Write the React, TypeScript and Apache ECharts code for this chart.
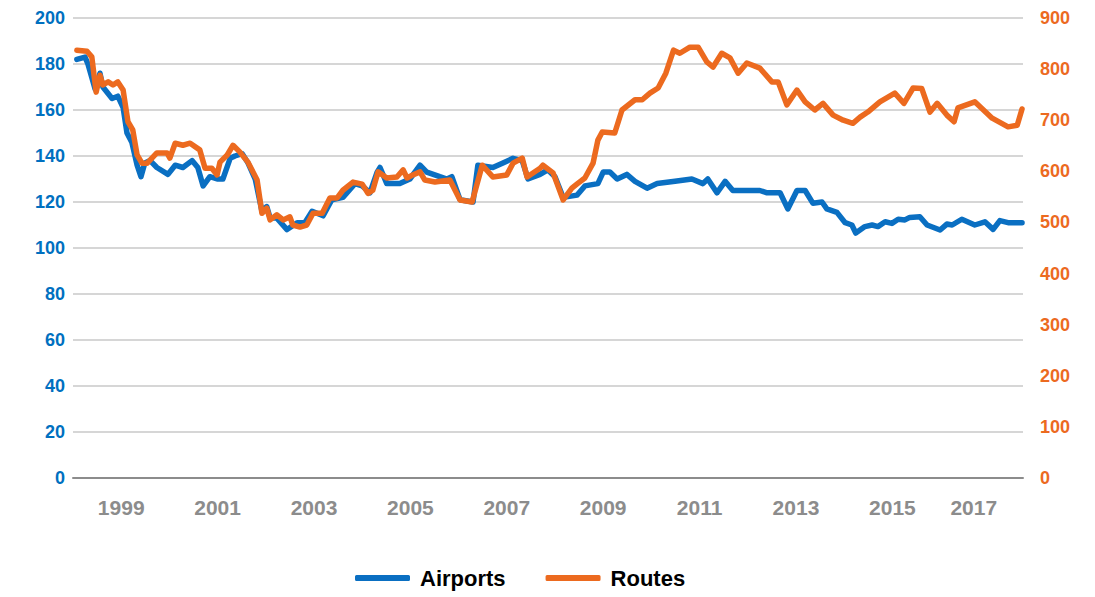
import React, { useEffect, useRef } from "react";
import * as echarts from "echarts";

// Decimal-year dates and values
const airportDates = [
  1998.08, 1998.25, 1998.31, 1998.46, 1998.56, 1998.62, 1998.81, 1998.93, 1999.04, 1999.12,
  1999.22, 1999.33, 1999.41, 1999.49, 1999.6, 1999.74, 1999.97, 2000.12, 2000.28, 2000.47,
  2000.59, 2000.7, 2000.84, 2000.99, 2001.11, 2001.26, 2001.36, 2001.51, 2001.63, 2001.78,
  2001.92, 2002.02, 2002.09, 2002.23, 2002.44, 2002.65, 2002.81, 2002.96, 2003.19, 2003.37,
  2003.6, 2003.85, 2004.0, 2004.16, 2004.31, 2004.37, 2004.51, 2004.78, 2004.99, 2005.2,
  2005.34, 2005.61, 2005.76, 2005.86, 2006.03, 2006.3, 2006.4, 2006.71, 2006.92, 2007.13,
  2007.32, 2007.44, 2007.69, 2007.85, 2008.0, 2008.17, 2008.46, 2008.62, 2008.89, 2009.0,
  2009.14, 2009.29, 2009.49, 2009.66, 2009.91, 2010.12, 2010.49, 2010.84, 2011.07, 2011.17,
  2011.36, 2011.53, 2011.69, 2012.25, 2012.4, 2012.67, 2012.83, 2013.02, 2013.19, 2013.35,
  2013.54, 2013.64, 2013.85, 2014.02, 2014.16, 2014.24, 2014.43, 2014.58, 2014.7, 2014.85,
  2014.99, 2015.12, 2015.26, 2015.36, 2015.57, 2015.72, 2015.99, 2016.13, 2016.24, 2016.44,
  2016.71, 2016.92, 2017.09, 2017.23, 2017.4, 2017.69,
];
const airportValues = [
  182, 183, 180, 169, 176, 170, 165, 166, 161, 150,
  146, 136, 131, 137, 138, 135, 132, 136, 135, 138,
  135, 127, 131, 130, 130, 139, 140, 141, 137, 130,
  116, 118, 113, 113, 108, 111, 111, 116, 114, 121,
  122, 128, 127, 124, 133, 135, 128, 128, 130, 136,
  133, 131, 130, 131, 121, 120, 136, 135, 137, 139,
  138, 130, 132, 134, 131, 122, 123, 127, 128, 133,
  133, 130, 132, 129, 126, 128, 129, 130, 128, 130,
  124, 129, 125, 125, 124, 124, 117, 125, 125, 119.5,
  120, 117, 115.5, 111, 110, 106.5, 109.3, 110, 109.3, 111.4,
  110.7, 112.5, 112.2, 113.3, 113.6, 110, 107.8, 110.4, 110, 112.5,
  110, 111.4, 108.1, 111.9, 111, 111,
];

const routeDates = [
  1998.08, 1998.29, 1998.39, 1998.48, 1998.56, 1998.62, 1998.73, 1998.83, 1998.93, 1999.04,
  1999.14, 1999.24, 1999.33, 1999.43, 1999.54, 1999.74, 1999.95, 2000.01, 2000.12, 2000.28,
  2000.43, 2000.63, 2000.74, 2000.88, 2000.99, 2001.05, 2001.2, 2001.32, 2001.46, 2001.63,
  2001.82, 2001.92, 2002.02, 2002.09, 2002.23, 2002.36, 2002.5, 2002.56, 2002.71, 2002.85,
  2002.98, 2003.17, 2003.33, 2003.48, 2003.6, 2003.81, 2004.0, 2004.12, 2004.22, 2004.33,
  2004.51, 2004.72, 2004.85, 2004.93, 2005.05, 2005.2, 2005.3, 2005.51, 2005.82, 2006.03,
  2006.28, 2006.49, 2006.71, 2007.0, 2007.13, 2007.32, 2007.42, 2007.69, 2007.75, 2007.96,
  2008.17, 2008.35, 2008.48, 2008.62, 2008.79, 2008.89, 2008.98, 2009.24, 2009.39, 2009.66,
  2009.81, 2009.97, 2010.14, 2010.3, 2010.46, 2010.59, 2010.8, 2010.97, 2011.15, 2011.28,
  2011.46, 2011.63, 2011.8, 2011.98, 2012.25, 2012.5, 2012.63, 2012.81, 2013.02, 2013.19,
  2013.39, 2013.56, 2013.77, 2013.98, 2014.18, 2014.33, 2014.49, 2014.74, 2015.05, 2015.24,
  2015.43, 2015.61, 2015.78, 2015.93, 2016.13, 2016.28, 2016.36, 2016.71, 2017.07, 2017.4,
  2017.59, 2017.69,
];
const routeValues = [
  837, 835, 824, 755, 788, 769, 775, 769, 775, 759,
  697, 681, 632, 616, 616, 636, 636, 626, 655, 651,
  655, 642, 606, 606, 593, 618, 632, 651, 638, 618,
  583, 518, 528, 505, 515, 505, 511, 495, 491, 495,
  518, 518, 548, 548, 563, 579, 575, 557, 563, 599,
  587, 589, 603, 587, 593, 599, 583, 579, 583, 544,
  540, 612, 589, 593, 616, 626, 589, 606, 612, 597,
  544, 567, 577, 587, 616, 661, 677, 675, 720, 740,
  740, 753, 763, 792, 837, 831, 843, 843, 814, 804,
  831, 822, 792, 812, 802, 775, 775, 730, 759, 736,
  720, 733, 710, 700, 694, 706, 716, 736, 753, 733,
  763, 762, 716, 733, 710, 697, 724, 736, 704, 687,
  690, 722,
];

const seriesNames = ["Airports", "Routes"];
const leftTicks = { min: 0, max: 200, interval: 20 };
const rightTicks = { min: 0, max: 900, interval: 100 };
const lastYearLabel = 2017;

const BLUE = "#0A6FC2";
const ORANGE = "#EC6A1F";

export default function App() {
  const ref = useRef<HTMLDivElement>(null);
  useEffect(() => {
    if (!ref.current) return;
    const chart = echarts.init(ref.current, undefined, { renderer: "svg" });
    const font = "'Liberation Sans', Arial, sans-serif";
    chart.setOption({
      animation: false,
      backgroundColor: "#ffffff",
      grid: { left: 73, right: 72, top: 18, bottom: 119, containLabel: false },
      legend: {
        bottom: 3,
        left: 350,
        itemWidth: 55,
        itemHeight: 6,
        itemGap: 40,
        icon: "roundRect",
        textStyle: {
          fontFamily: font,
          fontWeight: "bold",
          fontSize: 22,
          color: "#000",
          padding: [0, 0, 0, 5],
        },
        data: seriesNames,
      },
      xAxis: {
        type: "value",
        min: 1998,
        max: 2017.71,
        interval: 1,
        splitLine: { show: false },
        axisTick: { show: false },
        axisLine: { show: true, lineStyle: { color: "#8C8C8C", width: 2 } },
        axisLabel: {
          showMaxLabel: false,
          margin: 19,
          color: "#8C8C8C",
          fontFamily: font,
          fontWeight: "bold",
          fontSize: 21,
          formatter: (v: number) => {
            if (!Number.isInteger(v) || v % 2 !== 1) return "";
            return v === lastYearLabel ? `{last|${v}}` : String(v);
          },
          rich: {
            last: {
              color: "#8C8C8C",
              fontFamily: font,
              fontWeight: "bold",
              fontSize: 21,
              padding: [0, 30, 0, 0],
            },
          },
        },
      },
      yAxis: [
        {
          type: "value",
          ...leftTicks,
          position: "left",
          axisLine: { show: false },
          axisTick: { show: false },
          splitLine: { lineStyle: { color: "#C8C8C8", width: 1.5 } },
          axisLabel: {
            margin: 8,
            color: "#0070C0",
            fontFamily: font,
            fontWeight: "bold",
            fontSize: 18,
          },
        },
        {
          type: "value",
          ...rightTicks,
          position: "right",
          axisLine: { show: false },
          axisTick: { show: false },
          splitLine: { show: false },
          axisLabel: {
            margin: 17,
            color: ORANGE,
            fontFamily: font,
            fontWeight: "bold",
            fontSize: 18,
          },
        },
      ],
      series: [
        {
          name: seriesNames[0],
          type: "line",
          yAxisIndex: 0,
          showSymbol: false,
          symbol: "none",
          lineStyle: { color: BLUE, width: 5.5, join: "round", cap: "round" },
          itemStyle: { color: BLUE },
          data: airportDates.map((d, i) => [d, airportValues[i]]),
        },
        {
          name: seriesNames[1],
          type: "line",
          yAxisIndex: 1,
          showSymbol: false,
          symbol: "none",
          lineStyle: { color: ORANGE, width: 5.5, join: "round", cap: "round" },
          itemStyle: { color: ORANGE },
          data: routeDates.map((d, i) => [d, routeValues[i]]),
        },
      ],
    });
    return () => chart.dispose();
  }, []);
  return (
    <div
      ref={ref}
      style={{ position: "absolute", left: 0, top: 0, width: 1095, height: 597 }}
    />
  );
}
